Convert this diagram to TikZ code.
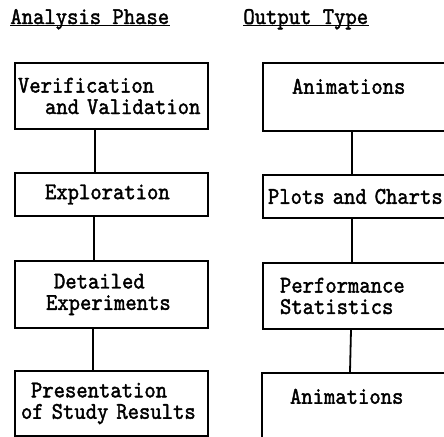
\documentclass[tikz,border=0pt]{standalone}
\usepackage{fontspec}
\newfontfamily\chartmono{lmmono10-regular.otf}[FakeBold=1.6,FakeStretch=0.9]
\newcommand\chartfont{\chartmono\fontsize{12}{10.7}\selectfont}
\tikzset{
  head/.style={anchor=base west,inner sep=0pt,font=\chartfont},
  phasebox/.style={draw,line width=1pt,anchor=north west,inner xsep=0pt,inner ysep=0pt,
    text width=96.5pt,align=left,font=\chartfont},
  typebox/.style={draw,line width=1pt,anchor=north west,inner xsep=0pt,inner ysep=0pt,
    text width=120pt,align=left,font=\chartfont},
  link/.style={line width=.9pt}
}
\begin{document}
\begin{tikzpicture}[x=.5pt,y=-.5pt]
  \useasboundingbox (0,0) rectangle (444,437);
  \clip (0,0) rectangle (444,437);

  % headings
  \node[head] (phasehead) at (10,24) {Analysis Phase};
  \node[head] (typehead) at (243,24) {Output Type};
  \draw[link] ([yshift=-.8pt]phasehead.base west) -- ([yshift=-.8pt]phasehead.base east);
  \draw[link] ([yshift=-.8pt]typehead.base west) -- ([yshift=-.8pt]typehead.base east);

  % analysis phase
  \node[phasebox,minimum height=33pt] (verify) at (14,62)
    {\hspace*{1.5pt}Verification\\\hspace*{15pt}and Validation};
  \node[phasebox,minimum height=21.5pt] (explore) at (14,172)
    {\hspace*{15pt}Exploration};
  \node[phasebox,minimum height=33.5pt] (detail) at (14,260)
    {\hspace*{19.5pt}Detailed\\\hspace*{15.5pt}Experiments};
  \node[phasebox,minimum height=32.5pt] (present) at (14,370)
    {\hspace*{8pt}Presentation\\\hspace*{3pt}of Study Results};

  \draw[link] ([xshift=-8.25pt]verify.south) -- ([xshift=-8.25pt]explore.north);
  \draw[link] ([xshift=-8.75pt]explore.south) -- ([xshift=-8.75pt]detail.north);
  \draw[link] ([xshift=-9.25pt]detail.south) -- ([xshift=-9.25pt]present.north);

  % output type
  \node[typebox,minimum height=34pt] (anim) at (262,62)
    {\hspace*{14.5pt}Animations\\\mbox{}};
  \node[typebox,minimum height=21.5pt] (plots) at (262,174)
    {\hspace*{2.5pt}Plots and Charts};
  \node[typebox,minimum height=33pt] (perf) at (262,262)
    {\hspace*{8.5pt}Performance\\\hspace*{8.5pt}Statistics};
  \node[typebox,minimum height=34pt] (animb) at (261,372)
    {\hspace*{14pt}Animations\\\mbox{}};

  \draw[link] ([xshift=-15.5pt]anim.south) -- ([xshift=-15.5pt]plots.north);
  \draw[link] ([xshift=-15.5pt]plots.south) -- ([xshift=-15.5pt]perf.north);
  \draw[link] ([xshift=-16pt]perf.south) -- ([xshift=-16pt]animb.north);
\end{tikzpicture}
\end{document}
